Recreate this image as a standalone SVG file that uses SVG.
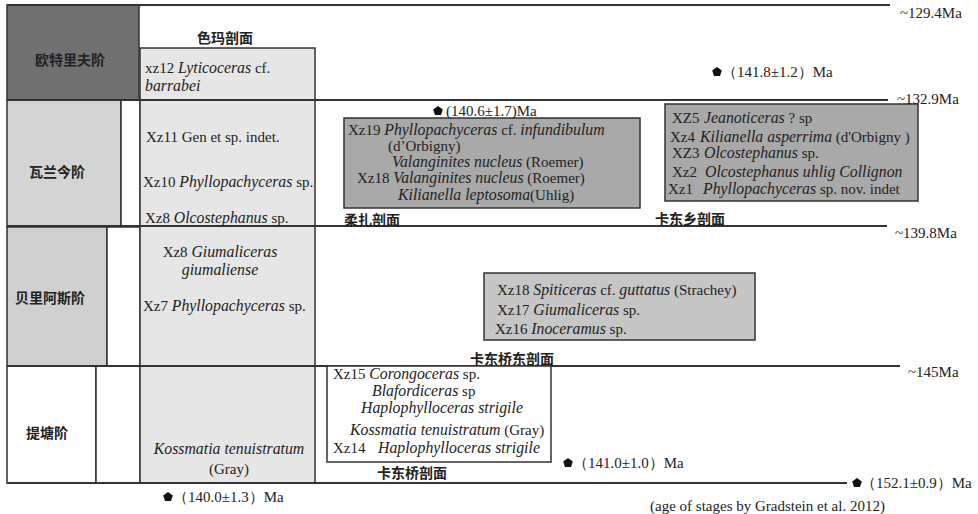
<svg xmlns="http://www.w3.org/2000/svg" xmlns:xlink="http://www.w3.org/1999/xlink" width="978" height="514" viewBox="0 0 978 514">
<style>
.t{font-family:"Liberation Serif","Times New Roman",serif;font-size:15px;fill:#222}
.i{font-style:italic;font-size:15.8px}
.c{text-anchor:middle}
.zh{font-family:"Noto Sans CJK SC","Noto Sans CJK TC",sans-serif;font-size:14px;font-weight:700;fill:#222}
.ln{stroke:#333;stroke-width:2;fill:none}
.bx{stroke:#333;stroke-width:1.5}
</style>
<defs>
<path id="pent" d="M0,-5 L4.8,-1.5 L3,4.1 L-3,4.1 L-4.8,-1.5 Z" fill="#111"/>
</defs>
<rect width="978" height="514" fill="#fff"/>

<g id="stage-hauterivian">
<rect x="7" y="5" width="132" height="95" fill="#707070" class="bx"/>
<text class="zh c" x="70" y="65">欧特里夫阶</text>
</g>
<g id="stage-valanginian">
<rect x="7" y="100" width="114" height="127" fill="#d4d4d4" class="bx"/>
<rect x="121" y="100" width="19" height="127" fill="#fff" class="bx"/>
<text class="zh c" x="57" y="177">瓦兰今阶</text>
</g>
<g id="stage-berriasian">
<rect x="7" y="227" width="100" height="139" fill="#d0d0d0" class="bx"/>
<rect x="107" y="227" width="33" height="139" fill="#fff" class="bx"/>
<text class="zh c" x="50" y="303">贝里阿斯阶</text>
</g>
<g id="stage-tithonian">
<rect x="7" y="366" width="89" height="117" fill="#fff" class="bx"/>
<rect x="96" y="366" width="44" height="117" fill="#fff" class="bx"/>
<text class="zh c" x="47" y="438">提塘阶</text>
</g>

<g id="sema-section">
<rect x="140" y="48" width="175" height="435" fill="#e6e6e6" class="bx"/>
<text class="zh c" x="225" y="43">色玛剖面</text>
<text class="t" x="145" y="73">xz12 <tspan class="i">Lyticoceras</tspan> cf.</text>
<text class="t i" x="145" y="91">barrabei</text>
<text class="t" x="146" y="142">Xz11 Gen et sp. indet.</text>
<text class="t" x="143" y="187">Xz10 <tspan class="i">Phyllopachyceras</tspan> sp.</text>
<text class="t" x="145" y="223">Xz8 <tspan class="i">Olcostephanus</tspan> sp.</text>
<text class="t c" x="220" y="257">Xz8 <tspan class="i">Giumaliceras</tspan></text>
<text class="t i c" x="220" y="275">giumaliense</text>
<text class="t" x="143" y="311">Xz7 <tspan class="i">Phyllopachyceras</tspan> sp.</text>
<text class="t i c" x="229" y="454">Kossmatia tenuistratum</text>
<text class="t c" x="229" y="474">(Gray)</text>
</g>

<g id="connectors">
<line class="ln" x1="7" y1="5" x2="890" y2="5"/>
<line class="ln" x1="7" y1="100" x2="888" y2="100"/>
<line class="ln" x1="7" y1="226" x2="887" y2="226"/>
<line class="ln" x1="7" y1="366" x2="900" y2="366"/>
<line class="ln" x1="7" y1="483" x2="847" y2="483"/>
</g>

<g id="rouzha-section">
<rect x="344" y="118" width="296" height="90" fill="#a9a9a9" class="bx"/>
<text class="t" x="348" y="135">Xz19 <tspan class="i">Phyllopachyceras</tspan> cf. <tspan class="i">infundibulum</tspan></text>
<text class="t" x="388" y="151">(d’Orbigny)</text>
<text class="t" x="392" y="167"><tspan class="i">Valanginites nucleus</tspan> (Roemer)</text>
<text class="t" x="357" y="183">Xz18 <tspan class="i">Valanginites nucleus</tspan> (Roemer)</text>
<text class="t" x="398" y="200"><tspan class="i">Kilianella leptosoma</tspan>(Uhlig)</text>
<text class="zh" x="344" y="225">柔扎剖面</text>
</g>

<g id="kadongxiang-section">
<rect x="665" y="104" width="253" height="97" fill="#a9a9a9" class="bx"/>
<text class="t" x="672" y="123">XZ5<tspan class="i" x="704">Jeanoticeras</tspan> ? sp</text>
<text class="t" x="670" y="142">Xz4<tspan class="i" x="700">Kilianella asperrima</tspan> (d'Orbigny )</text>
<text class="t" x="672" y="158">XZ3<tspan class="i" x="704">Olcostephanus</tspan> sp.</text>
<text class="t" x="672" y="177">Xz2<tspan class="i" x="705">Olcostephanus uhlig Collignon</tspan></text>
<text class="t" x="668" y="194">Xz1<tspan class="i" x="703">Phyllopachyceras</tspan> sp. nov. indet</text>
<text class="zh" x="655" y="224">卡东乡剖面</text>
</g>

<g id="kadongqiaodong-section">
<rect x="484" y="273" width="271" height="67" fill="#c6c6c6" class="bx"/>
<text class="t" x="497" y="295">Xz18 <tspan class="i">Spiticeras</tspan> cf. <tspan class="i">guttatus</tspan> (Strachey)</text>
<text class="t" x="497" y="315">Xz17 <tspan class="i">Giumaliceras</tspan> sp.</text>
<text class="t" x="495" y="334">Xz16 <tspan class="i">Inoceramus</tspan> sp.</text>
<text class="zh" x="470" y="364">卡东桥东剖面</text>
</g>

<g id="kadongqiao-section">
<rect x="327" y="366" width="224" height="96" fill="#fff" class="bx"/>
<text class="t" x="333" y="379">Xz15 <tspan class="i">Corongoceras</tspan> sp.</text>
<text class="t" x="372" y="396"><tspan class="i">Blafordiceras</tspan> sp</text>
<text class="t i" x="361" y="413">Haplophylloceras strigile</text>
<text class="t" x="350" y="435"><tspan class="i">Kossmatia tenuistratum</tspan> (Gray)</text>
<text class="t" x="333" y="453">Xz14<tspan class="i" x="378">Haplophylloceras strigile</tspan></text>
<text class="zh" x="377" y="478">卡东桥剖面</text>
</g>

<g id="ages">
<use xlink:href="#pent" x="438" y="111"/>
<text class="t" x="446" y="116">(140.6±1.7)Ma</text>
<use xlink:href="#pent" x="717" y="72"/>
<text class="t" x="722" y="77">（141.8±1.2）Ma</text>
<use xlink:href="#pent" x="568" y="463"/>
<text class="t" x="573" y="468">（141.0±1.0）Ma</text>
<use xlink:href="#pent" x="168" y="497"/>
<text class="t" x="173" y="502">（140.0±1.3）Ma</text>
<use xlink:href="#pent" x="857" y="483"/>
<text class="t" x="861" y="488">（152.1±0.9）Ma</text>
<text class="t" x="650" y="511">(age of stages by Gradstein et al. 2012)</text>
</g>

<g id="boundary-labels">
<text class="t" x="900" y="18">~129.4Ma</text>
<text class="t" x="897" y="104">~132.9Ma</text>
<text class="t" x="895" y="238">~139.8Ma</text>
<text class="t" x="908" y="377">~145Ma</text>
</g>
</svg>
